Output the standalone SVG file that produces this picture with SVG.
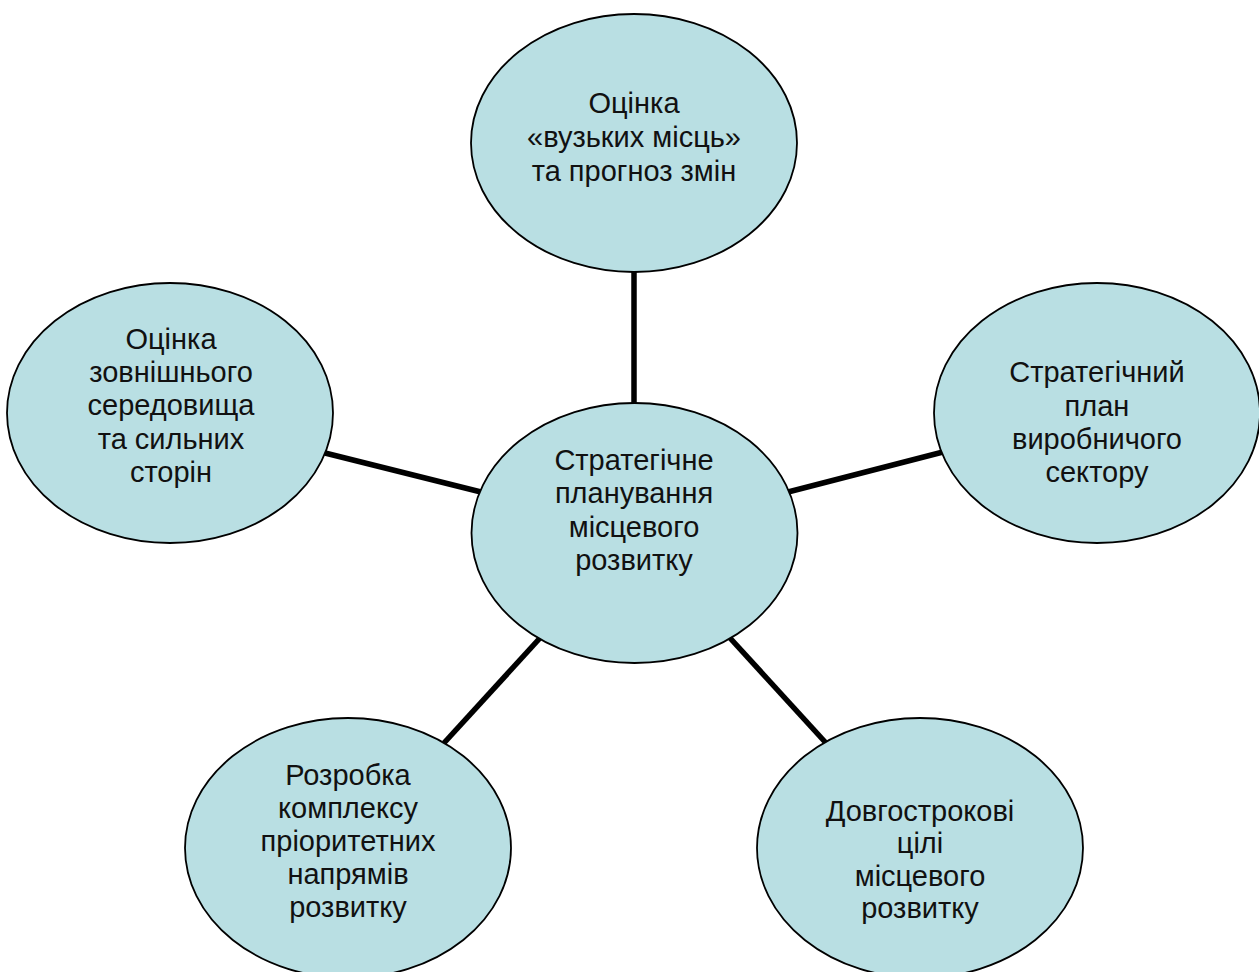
<svg xmlns="http://www.w3.org/2000/svg" width="1259" height="972" viewBox="0 0 1259 972">
<style>
.n{fill:#b9dfe3;stroke:#000;stroke-width:1.8}
.c{stroke:#000;stroke-width:5.5;fill:none}
text{font-family:"Liberation Sans",Arial,sans-serif;font-size:29px;fill:#111;text-anchor:middle}
</style>
<rect width="1259" height="972" fill="#fff"/>
<g id="connectors">
<line class="c" x1="634" y1="272" x2="634" y2="404"/>
<line class="c" x1="325" y1="453" x2="481" y2="492"/>
<line class="c" x1="788" y1="492" x2="943" y2="452"/>
<line class="c" x1="540" y1="638" x2="444" y2="743"/>
<line class="c" x1="730" y1="638" x2="826" y2="743"/>
</g>
<g id="top">
<ellipse class="n" cx="634" cy="143" rx="163" ry="129"/>
<text x="634" y="113">Оцінка</text>
<text x="634" y="147">«вузьких місць»</text>
<text x="634" y="181">та прогноз змін</text>
</g>
<g id="left">
<ellipse class="n" cx="170" cy="413" rx="163" ry="130"/>
<text x="171" y="349">Оцінка</text>
<text x="171" y="382">зовнішнього</text>
<text x="171" y="415">середовища</text>
<text x="171" y="449">та сильних</text>
<text x="171" y="482">сторін</text>
</g>
<g id="center">
<ellipse class="n" cx="634.5" cy="533" rx="163" ry="130"/>
<text x="634" y="470">Стратегічне</text>
<text x="634" y="503">планування</text>
<text x="634" y="537">місцевого</text>
<text x="634" y="570">розвитку</text>
</g>
<g id="right">
<ellipse class="n" cx="1097" cy="413" rx="163" ry="130"/>
<text x="1097" y="382">Стратегічний</text>
<text x="1097" y="416">план</text>
<text x="1097" y="449">виробничого</text>
<text x="1097" y="482">сектору</text>
</g>
<g id="bottom-left">
<ellipse class="n" cx="348" cy="848" rx="163" ry="130"/>
<text x="348" y="785">Розробка</text>
<text x="348" y="818">комплексу</text>
<text x="348" y="851">пріоритетних</text>
<text x="348" y="884">напрямів</text>
<text x="348" y="917">розвитку</text>
</g>
<g id="bottom-right">
<ellipse class="n" cx="920" cy="848" rx="163" ry="130"/>
<text x="920" y="821">Довгострокові</text>
<text x="920" y="853">цілі</text>
<text x="920" y="886">місцевого</text>
<text x="920" y="918">розвитку</text>
</g>
</svg>
